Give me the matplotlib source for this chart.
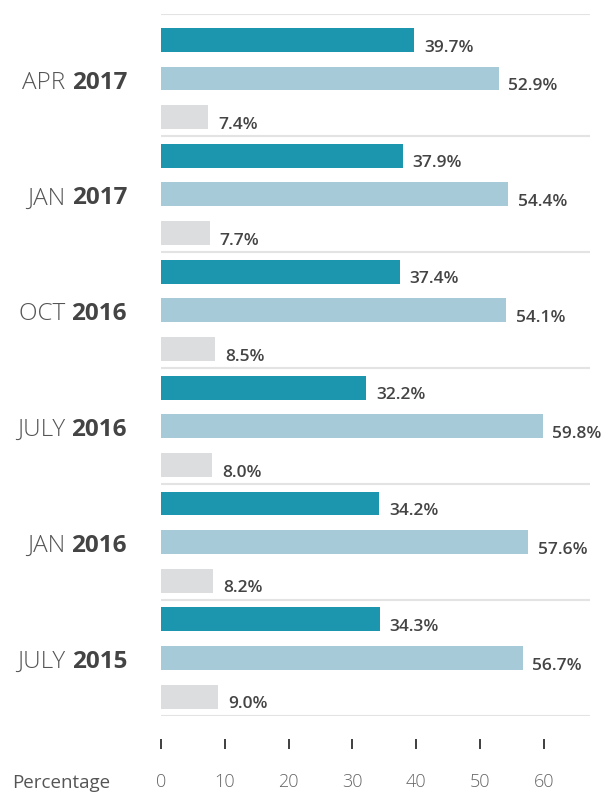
import matplotlib.pyplot as plt

# data, top group first
months = ["APR", "JAN", "OCT", "JULY", "JAN", "JULY"]
years = ["2017", "2017", "2016", "2016", "2016", "2015"]
series_dark = [39.7, 37.9, 37.4, 32.2, 34.2, 34.3]
series_light = [52.9, 54.4, 54.1, 59.8, 57.6, 56.7]
series_gray = [7.4, 7.7, 8.5, 8.0, 8.2, 9.0]
x_ticks = [0, 10, 20, 30, 40, 50, 60]

colors = ["#1b96ae", "#a6cad8", "#dcdddf"]
TEXT = "#444444"

plt.rcParams['font.family'] = ['Open Sans', 'DejaVu Sans']

W, H = 608, 794
fig = plt.figure(figsize=(W / 100, H / 100), dpi=100, facecolor="white")
PT = 0.72  # points per pixel at dpi 100

# axes: x 0 at px 161, 10 units = 63.8 px ; y from separator line px 14 to 716
x0, xr = 161, 590
ax = fig.add_axes([x0 / W, 1 - 716 / H, (xr - x0) / W, (716 - 14) / H])
ax.set_xlim(0, (xr - x0) / 6.38)
ax.set_ylim(17.5, -0.67)

for i in range(len(months)):
    vals = [series_dark[i], series_light[i], series_gray[i]]
    for j, v in enumerate(vals):
        y = i * 3 + j
        ax.barh(y, v, height=0.62, color=colors[j], zorder=2)
        ax.annotate(f"{v:.1f}%", xy=(v, y), xytext=(7, -5.5), textcoords="offset points",
                    ha="left", va="center", fontsize=12.5, fontweight="semibold", color=TEXT)

    # separators
    ax.axhline(i * 3 + 2.5, color="#e3e3e3", lw=1.5, zorder=1)

    # group label: light month + bold year, right aligned
    yr = fig.text(127 / W, 0, years[i], ha="right", va="center", fontsize=17.5,
                  fontweight="bold", color=TEXT)
    yr.set_y(1 - (14 + (i * 3 + 1 + 0.67) * 38.63 + 4) / H)
    ax.annotate(months[i] + " ", xy=(0, 0.5), xycoords=yr, ha="right", va="center",
                fontsize=17.5, fontweight="light", color="#555555")

ax.axhline(-0.67, color="#e3e3e3", lw=1.5, zorder=1)

for s in ["top", "right", "left", "bottom"]:
    ax.spines[s].set_visible(False)
ax.spines["bottom"].set_position(("outward", 23 * PT))
ax.set_yticks([])
ax.set_xticks(x_ticks)
ax.set_xticklabels([str(t) for t in x_ticks])
ax.tick_params(axis="x", direction="out", length=10 * PT, width=2 * PT, color="#444444",
               pad=24 * PT, labelsize=13, labelcolor="#666666")
for lab in ax.get_xticklabels():
    lab.set_fontweight("light")

fig.text(12 / W, 1 - 783 / H, "Percentage", ha="left", va="center", fontsize=13.5,
         color="#555555")

plt.savefig("out.png", dpi=100, facecolor="white")
